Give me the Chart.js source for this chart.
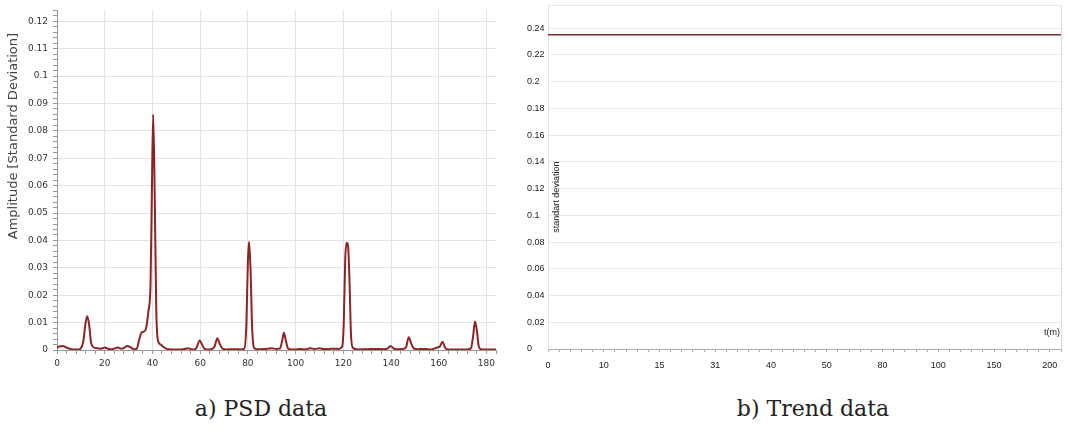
<!DOCTYPE html>
<html>
<head>
<meta charset="utf-8">
<script src="https://cdn.jsdelivr.net/npm/chart.js@4.4.1/dist/chart.umd.min.js"></script>
<style>
    body { margin: 0; background: #fff; width: 1069px; height: 435px; position: relative; overflow: hidden; }
    .box { position: absolute; top: 0; height: 378px; }
    #psdBox { left: 0; width: 505px; }
    #trendBox { left: 515px; width: 554px; }
    .caption { position: absolute; top: 396px; font-family: 'DejaVu Serif', serif; font-size: 22px; color: #222; transform: translateX(-50%); white-space: nowrap; }
</style>
</head>
<body>
<div class="box" id="psdBox"><canvas id="psdChart"></canvas></div>
<div class="box" id="trendBox"><canvas id="trendChart"></canvas></div>
<div class="caption" style="left:261px">a) PSD data</div>
<div class="caption" style="left:813px">b) Trend data</div>

<script>
// PSD spectrum (frequency, amplitude)
const psdFreq = [0, 1, 2.5, 4, 5.5, 7, 9, 10, 11, 12, 12.7, 13.5, 14.3, 15.5, 17, 18.5, 20, 21, 22.5, 24, 25.5, 27, 28, 29.5, 31, 32.5, 33.5,
    34.5, 35.5, 36.5, 37.3, 38.3, 39.2, 39.8, 40.3, 40.9, 41.6, 42.3, 43.5, 44.5, 46, 48, 51, 53, 55, 56.5, 58, 59, 59.8, 60.8, 62, 64,
    66, 67.2, 68.2, 69.5, 71, 73, 75, 77, 78.5, 79.4, 80, 80.5, 81.1, 81.8, 82.6, 84, 87, 90, 92, 93.5, 94.4, 95.1, 95.9, 96.8, 98, 100,
    102, 104, 106, 108, 110, 112, 114, 116, 118, 119.5, 120.2, 120.8, 121.4, 122, 122.6, 123.2, 124, 126, 130, 134, 137, 138.5, 139.8,
    141, 142.5, 145, 146.3, 147.4, 148.4, 149.5, 151, 154, 157, 159, 160.5, 161.6, 162.5, 163.5, 166, 169, 172, 173.5, 174.4, 175.2,
    176, 176.8, 178, 181, 184];
const psdAmp = [0.0008, 0.0013, 0.0015, 0.0009, 0.0004, 0.0002, 0.0002, 0.0006, 0.0030, 0.0100, 0.0123, 0.0090, 0.0025, 0.0009, 0.0006,
    0.0005, 0.0009, 0.0006, 0.0002, 0.0005, 0.0009, 0.0005, 0.0007, 0.0015, 0.0009, 0.0002, 0.0006,
    0.0040, 0.0064, 0.0068, 0.0078, 0.0140, 0.0240, 0.0600, 0.0860, 0.0600, 0.0150, 0.0035, 0.0020, 0.0012, 0.0004, 0.0002, 0.0002,
    0.0003, 0.0006, 0.0002, 0.0003, 0.0020, 0.0035, 0.0020, 0.0003, 0.0002,
    0.0012, 0.0043, 0.0022, 0.0004, 0.0002, 0.0003, 0.0003, 0.0002, 0.0005, 0.0100, 0.0320, 0.0395, 0.0300, 0.0080, 0.0008, 0.0003,
    0.0004, 0.0006, 0.0004, 0.0006, 0.0035, 0.0063, 0.0035, 0.0006, 0.0002, 0.0002,
    0.0004, 0.0002, 0.0006, 0.0004, 0.0006, 0.0003, 0.0004, 0.0005, 0.0004, 0.0012, 0.0100, 0.0330, 0.0392, 0.0380, 0.0250, 0.0060,
    0.0008, 0.0002, 0.0003, 0.0004, 0.0003, 0.0005, 0.0015,
    0.0006, 0.0003, 0.0004, 0.0010, 0.0047, 0.0025, 0.0006, 0.0003, 0.0004, 0.0002, 0.0008, 0.0013, 0.0030, 0.0012, 0.0002, 0.0002,
    0.0002, 0.0002, 0.0006, 0.0050, 0.0104,
    0.0070, 0.0012, 0.0002, 0.0002, 0.0002];

// Trend: time labels on the x axis and the standard deviation at each one
const trendLabels = ['0', '10', '15', '31', '40', '50', '80', '100', '150', '200'];
const trendValues = [0.235, 0.235, 0.235, 0.235, 0.235, 0.235, 0.235, 0.235, 0.235, 0.235];

const psdYTitle = 'Amplitude [Standard Deviation]';
const trendYTitle = 'standart deviation';
const trendXTitle = 't(m)';

const TREND_X_MAX = 9.2;

function isMultiple(v, step) {
    const r = v / step;
    return Math.abs(r - Math.round(r)) < 1e-6;
}

const psdTitlePlugin = {
    id: 'psdTitle',
    afterDraw(chart) {
        const { ctx, chartArea } = chart;
        ctx.save();
        ctx.translate(14, chartArea.top + (chartArea.bottom - chartArea.top) * 0.37);
        ctx.rotate(-Math.PI / 2);
        ctx.font = '13px "DejaVu Sans"';
        ctx.fillStyle = '#444';
        ctx.textAlign = 'center';
        ctx.textBaseline = 'middle';
        ctx.fillText(psdYTitle, 0, 0);
        ctx.restore();
    }
};

const trendTextPlugin = {
    id: 'trendText',
    afterDraw(chart) {
        const { ctx, chartArea } = chart;
        ctx.save();
        ctx.font = '9px "Liberation Sans"';
        ctx.fillStyle = '#222';
        ctx.textAlign = 'right';
        ctx.textBaseline = 'middle';
        ctx.fillText(trendXTitle, chartArea.right - 1, chartArea.bottom - 16);
        ctx.translate(chartArea.left + 9, chartArea.top + (chartArea.bottom - chartArea.top) * 0.558);
        ctx.rotate(-Math.PI / 2);
        ctx.textAlign = 'center';
        ctx.fillText(trendYTitle, 0, 0);
        ctx.restore();
    }
};

new Chart(document.getElementById('psdChart'), {
    type: 'line',
    data: {
        datasets: [{
            data: psdFreq.map((f, i) => ({ x: f, y: psdAmp[i] })),
            borderColor: '#8b2525',
            borderWidth: 2,
            pointRadius: 0,
            cubicInterpolationMode: 'monotone',
            fill: false
        }]
    },
    options: {
        animation: false,
        responsive: true,
        maintainAspectRatio: false,
        layout: { padding: { left: 0, right: 9, top: 6, bottom: 0 } },
        plugins: { legend: { display: false }, tooltip: { enabled: false } },
        scales: {
            x: {
                type: 'linear',
                min: 0,
                max: 184,
                afterFit: (s) => { s.height = 28; },
                border: { color: '#999' },
                grid: {
                    color: (c) => (c.tick && isMultiple(c.tick.value, 20) && c.tick.value > 0) ? '#e2e2e2' : 'rgba(0,0,0,0)',
                    tickColor: '#999',
                    tickLength: 4
                },
                ticks: {
                    stepSize: 4,
                    autoSkip: false,
                    maxRotation: 0,
                    padding: 4,
                    color: '#333',
                    font: { family: 'DejaVu Sans', size: 9 },
                    callback: (v) => isMultiple(v, 20) ? String(Math.round(v)) : ''
                }
            },
            y: {
                min: 0,
                max: 0.124,
                afterFit: (s) => { s.width = 57; },
                border: { color: '#999' },
                grid: {
                    color: (c) => (c.tick && isMultiple(c.tick.value, 0.01) && c.tick.value > 0) ? '#e2e2e2' : 'rgba(0,0,0,0)',
                    tickColor: '#999',
                    tickLength: 4
                },
                ticks: {
                    stepSize: 0.002,
                    autoSkip: false,
                    padding: 5,
                    color: '#333',
                    font: { family: 'DejaVu Sans', size: 9 },
                    callback: (v) => isMultiple(v, 0.01) ? String(parseFloat(v.toFixed(2))) : ''
                }
            }
        }
    },
    plugins: [psdTitlePlugin]
});

const trendPoints = trendValues.map((v, i) => ({ x: i, y: v }));
trendPoints.push({ x: TREND_X_MAX, y: trendValues[trendValues.length - 1] });

new Chart(document.getElementById('trendChart'), {
    type: 'line',
    data: {
        datasets: [{
            data: trendPoints,
            borderColor: '#7d2a2a',
            borderWidth: 1.5,
            pointRadius: 0,
            fill: false
        }]
    },
    options: {
        animation: false,
        responsive: true,
        maintainAspectRatio: false,
        layout: { padding: { left: 12, right: 5, top: 5, bottom: 0 } },
        plugins: { legend: { display: false }, tooltip: { enabled: false } },
        scales: {
            x: {
                type: 'linear',
                min: 0,
                max: TREND_X_MAX,
                afterFit: (s) => { s.height = 29; },
                border: { color: '#aaa' },
                grid: {
                    color: (c) => (c.tick && c.tick.value >= TREND_X_MAX - 1e-9) ? '#dddddd' : 'rgba(0,0,0,0)',
                    tickColor: '#aaa',
                    tickLength: 3
                },
                ticks: {
                    stepSize: 0.2,
                    autoSkip: false,
                    maxRotation: 0,
                    padding: 8,
                    color: '#222',
                    font: { family: 'Liberation Sans', size: 9 },
                    callback: (v) => {
                        const i = Math.round(v);
                        return (Math.abs(v - i) < 1e-6 && trendLabels[i] !== undefined) ? trendLabels[i] : '';
                    }
                }
            },
            y: {
                min: 0,
                max: 0.257,
                afterFit: (s) => { s.width = 21; },
                border: { color: '#e2e2e2' },
                grid: { color: '#e8e8e8', drawTicks: false },
                ticks: {
                    stepSize: 0.02,
                    autoSkip: false,
                    crossAlign: 'far',
                    padding: 0,
                    color: '#222',
                    font: { family: 'Liberation Sans', size: 9 },
                    callback: (v) => isMultiple(v, 0.02) ? String(parseFloat(v.toFixed(2))) : ''
                }
            }
        }
    },
    plugins: [trendTextPlugin]
});
</script>
</body>
</html>
